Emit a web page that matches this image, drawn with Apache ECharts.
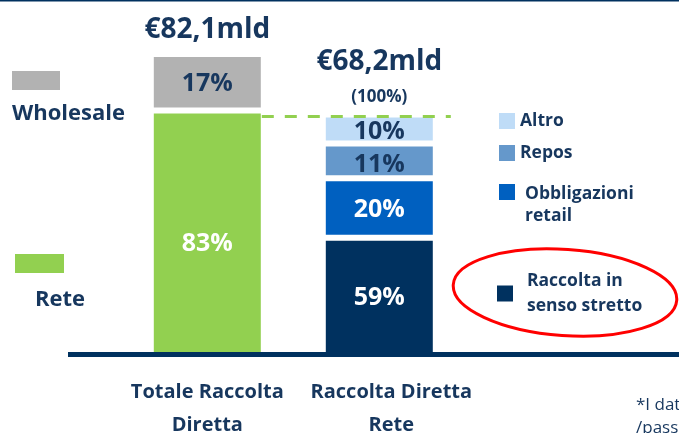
<!DOCTYPE html>
<html>
<head>
<meta charset="utf-8">
<script src="https://cdn.jsdelivr.net/npm/echarts@6/dist/echarts.min.js"></script>
<style>
  html, body { margin: 0; padding: 0; background: #fff; }
  #chart { width: 679px; height: 433px; }
</style>
</head>
<body>
<div id="chart"></div>
<script>
// values in € mld, as drawn (segment heights)
const categories = ["Totale Raccolta\nDiretta", "Raccolta Diretta\nRete"];
const rete = [66.7, null];
const wholesale = [15.4, null];
const stretto = [null, 32.0];
const obbligazioni = [null, 16.2];
const repos = [null, 9.5];
const altro = [null, 7.9];

// shares printed on the segments
const retePct = [83, null];
const wholesalePct = [17, null];
const strettoPct = [null, 59];
const obbligazioniPct = [null, 20];
const reposPct = [null, 11];
const altroPct = [null, 10];

const totalLabels = ["€82,1mld", "€68,2mld"];
const totalSubLabels = ["", "(100%)"];

const navy = "#17375E";
const font = "Open Sans";

const myChart = echarts.init(document.getElementById("chart"));

const allSeries = [rete, wholesale, stretto, obbligazioni, repos, altro];
const tops = categories.map((c, i) =>
  allSeries.reduce((s, arr) => s + (arr[i] || 0), 0)
);

function barSeries(name, data, pct, color, labelColor, offset) {
  return {
    name: name,
    type: "bar",
    stack: "tot",
    barWidth: 113,
    data: data,
    itemStyle: { color: color, borderColor: "#fff", borderWidth: 3 },
    label: {
      show: true,
      position: "inside",
      offset: offset || [0, 0],
      formatter: (p) => (pct[p.dataIndex] == null ? "" : pct[p.dataIndex] + "%"),
      color: labelColor,
      fontSize: 25,
      fontWeight: "bold",
      fontFamily: font,
    },
  };
}

function legendItem(name, left, top, w, h, extra) {
  return Object.assign(
    {
      data: [name],
      left: left,
      top: top,
      padding: 0,
      itemWidth: w,
      itemHeight: h,
      icon: "rect",
      selectedMode: false,
      itemStyle: { borderWidth: 0 },
      textStyle: {
        color: navy,
        fontSize: 17.5,
        fontWeight: "bold",
        fontFamily: font,
        lineHeight: 20,
      },
    },
    extra || {}
  );
}

const legendRich = {
  e: { fontSize: 10, lineHeight: 26 },
  t: { color: navy, fontSize: 17.5, fontWeight: "bold", fontFamily: font, lineHeight: 22 },
};

const labelStyle = {
  fontSize: 20,
  fontWeight: "bold",
  color: navy,
  fontFamily: font,
  lineHeight: 33,
};

let option = {
  animation: false,
  backgroundColor: "#fff",
  textStyle: { fontFamily: font },
  grid: { left: 121.3, right: 213.7, top: 25, bottom: 78, outerBoundsMode: "none", containLabel: false },
  xAxis: {
    type: "category",
    data: categories,
    axisLine: { show: false },
    axisTick: { show: false },
    axisLabel: {
      interval: 0,
      margin: 21,
      formatter: (value, index) =>
        value
          .split("\n")
          .map((l) => "{" + (index === 1 ? "r" : "l") + "|" + l + "}")
          .join("\n"),
      rich: {
        l: labelStyle,
        r: Object.assign({}, labelStyle, { padding: [0, 0, 0, 24] }),
      },
    },
  },
  yAxis: { type: "value", min: 0, max: 90, show: false },
  legend: [
    legendItem("Wholesale", 12, 71, 48, 19, { formatter: () => "" }),
    legendItem("Rete", 15, 254, 49, 19, { formatter: () => "" }),
    legendItem("Altro", 499, 111, 16, 16),
    legendItem("Repos", 499, 143, 16, 16),
    legendItem("Obbligazioni\nretail", 499, 165, 16, 16, {
      // empty first line keeps the square level with "Obbligazioni"
      formatter: (name) => "{e| }\n" + name.split("\n").map((l) => "{t|" + l + "}").join("\n"),
      textStyle: { rich: legendRich, padding: [0, 0, 0, 5] },
    }),
    legendItem("Raccolta in\nsenso stretto", 497, 268.5, 16, 16, {
      textStyle: {
        color: navy, fontSize: 17.5, fontWeight: "bold", fontFamily: font,
        lineHeight: 25, padding: [0, 0, 0, 9],
      },
    }),
  ],
  series: [
    barSeries("Rete", rete, retePct, "#92D050", "#fff", [0, 11]),
    barSeries("Wholesale", wholesale, wholesalePct, "#B2B2B2", navy, [0, 2]),
    barSeries("Raccolta in\nsenso stretto", stretto, strettoPct, "#00315F", "#fff", [0, 2]),
    barSeries("Obbligazioni\nretail", obbligazioni, obbligazioniPct, "#0060C0", "#fff", [0, 2]),
    barSeries("Repos", repos, reposPct, "#6598CB", navy, [0, 4]),
    barSeries("Altro", altro, altroPct, "#BFDCF7", navy, [0, 3]),
    {
      name: "totali",
      type: "scatter",
      symbolSize: 0,
      silent: true,
      itemStyle: { opacity: 1 },
      data: [
        { value: [0, tops[0]], label: { offset: [0, -24] } },
        { value: [1, tops[1]], label: { offset: [0, -36] } },
      ],
      label: {
        show: true,
        position: "inside",
        formatter: (p) =>
          totalSubLabels[p.dataIndex]
            ? "{a|" + totalLabels[p.dataIndex] + "}\n{b|" + totalSubLabels[p.dataIndex] + "}"
            : "{a|" + totalLabels[p.dataIndex] + "}",
        rich: {
          a: { fontSize: 28, fontWeight: "bold", color: navy, fontFamily: font, lineHeight: 38 },
          b: { fontSize: 17, fontWeight: "bold", color: navy, fontFamily: font, lineHeight: 32 },
        },
      },
    },
  ],
};

myChart.setOption(option);

// decorations placed through the chart's own scales
const base = myChart.convertToPixel({ gridIndex: 0 }, [0, 0]);
const p0 = myChart.convertToPixel({ gridIndex: 0 }, [0, tops[1]]);
const p1 = myChart.convertToPixel({ gridIndex: 0 }, [1, tops[1]]);

myChart.setOption({
  graphic: [
    { type: "rect", z: 100, shape: { x: 0, y: 0, width: 679, height: 1.5 }, style: { fill: "#00315F" } },
    { type: "rect", z: 100, shape: { x: 68, y: base[1] - 3, width: 611, height: 5 }, style: { fill: "#00315F" } },
    {
      type: "line", z: 100,
      shape: { x1: p0[0] + 54.5, y1: p0[1] + 2, x2: p1[0] + 71.5, y2: p1[1] + 2 },
      style: { stroke: "#92D050", lineWidth: 3, lineDash: [12, 11] },
    },
    {
      type: "text", x: 12, y: 114, z: 100,
      style: { text: "Wholesale", fill: navy, font: 'bold 22px "Open Sans"', verticalAlign: "middle" },
    },
    {
      type: "text", x: 35, y: 300, z: 100,
      style: { text: "Rete", fill: navy, font: 'bold 22px "Open Sans"', verticalAlign: "middle" },
    },
    {
      type: "ellipse", x: 565, y: 292.5, rotation: -0.07, z: 100,
      shape: { cx: 0, cy: 0, rx: 112, ry: 43 },
      style: { fill: "none", stroke: "#FF0000", lineWidth: 3 },
    },
    {
      type: "text", x: 636, y: 394, z: 100,
      style: { text: "*I dati\n/passività", fill: navy, font: '17px "Open Sans"', lineHeight: 23, verticalAlign: "top" },
    },
  ],
});

window.onresize = function () {
  myChart.resize();
};
</script>
</body>
</html>
